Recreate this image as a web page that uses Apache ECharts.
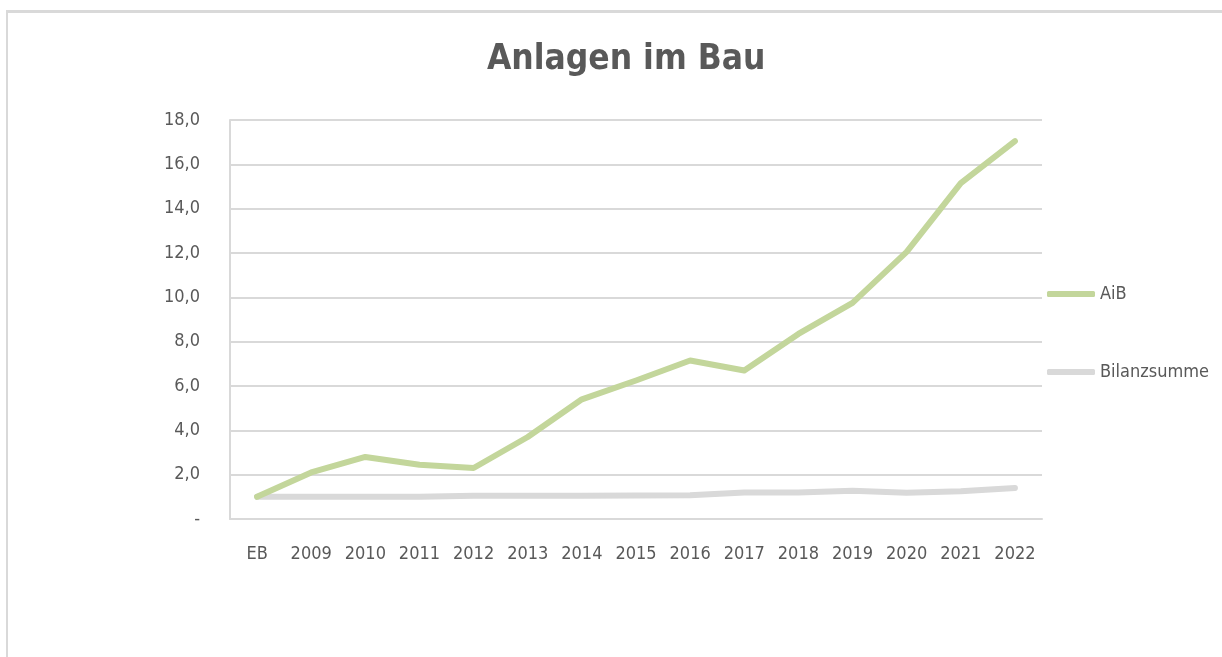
<!DOCTYPE html>
<html>
<head>
<meta charset="utf-8">
<script src="https://cdn.jsdelivr.net/npm/echarts@6/dist/echarts.min.js"></script>
<style>
  html, body { margin: 0; padding: 0; background: #fff; }
  #frame {
    position: absolute; left: 6px; top: 10px; width: 1300px; height: 700px;
    border-left: 2px solid #d9d9d9; border-top: 3px solid #d9d9d9;
  }
  #main { position: absolute; left: 0; top: 0; width: 1222px; height: 657px; }
</style>
</head>
<body>
<div id="frame"></div>
<div id="main"></div>
<script>
const categories = ['EB', '2009', '2010', '2011', '2012', '2013', '2014', '2015', '2016', '2017', '2018', '2019', '2020', '2021', '2022']
const aibValues = [1.0, 2.1, 2.8, 2.45, 2.3, 3.7, 5.4, 6.25, 7.15, 6.7, 8.35, 9.75, 12.05, 15.15, 17.05]
const bilanzValues = [1.0, 1.0, 1.0, 1.0, 1.05, 1.05, 1.05, 1.06, 1.07, 1.2, 1.2, 1.27, 1.18, 1.25, 1.4]
const yTicks = ['-', '2,0', '4,0', '6,0', '8,0', '10,0', '12,0', '14,0', '16,0', '18,0']

const font = '"Liberation Sans Narrow", "DejaVu Sans Condensed", "Liberation Sans", sans-serif'
const myChart = echarts.init(document.getElementById('main'))
const option = {
  animation: false,
  title: {
    text: 'Anlagen im Bau',
    left: 482,
    top: 37,
    textStyle: { fontFamily: font, fontSize: 35, fontWeight: 'bold', color: '#595959' },
  },
  legend: {
    orient: 'vertical',
    left: 1042,
    top: 280,
    itemGap: 60,
    itemWidth: 48,
    itemHeight: 6,
    icon: 'roundRect',
    textStyle: { fontFamily: font, fontSize: 18, color: '#595959', padding: [0, 0, 0, 0] },
    data: ['AiB', 'Bilanzsumme'],
  },
  grid: { left: 230, right: 180, top: 120, bottom: 138 },
  xAxis: {
    type: 'category',
    data: categories,
    boundaryGap: true,
    axisLine: { show: true, lineStyle: { color: '#d9d9d9', width: 2 } },
    axisTick: { show: false },
    axisLabel: { fontFamily: font, fontSize: 18, color: '#595959', margin: 26 },
  },
  yAxis: {
    type: 'value',
    min: 0,
    max: 18,
    interval: 2,
    axisLine: { show: true, lineStyle: { color: '#d9d9d9', width: 2 } },
    axisTick: { show: false },
    splitLine: { lineStyle: { color: '#d9d9d9', width: 2 } },
    axisLabel: {
      fontFamily: font, fontSize: 18, color: '#595959', margin: 30,
      formatter: (v) => yTicks[Math.round(v / 2)],
    },
  },
  series: [
    {
      name: 'Bilanzsumme',
      type: 'line',
      data: bilanzValues,
      symbol: 'none',
      lineStyle: { color: '#d9d9d9', width: 6, cap: 'round', join: 'round' },
      itemStyle: { color: '#d9d9d9' },
      z: 2,
    },
    {
      name: 'AiB',
      type: 'line',
      data: aibValues,
      symbol: 'none',
      lineStyle: { color: '#c3d69b', width: 6, cap: 'round', join: 'round' },
      itemStyle: { color: '#c3d69b' },
      z: 3,
    },
  ],
}
option && myChart.setOption(option)
</script>
</body>
</html>
